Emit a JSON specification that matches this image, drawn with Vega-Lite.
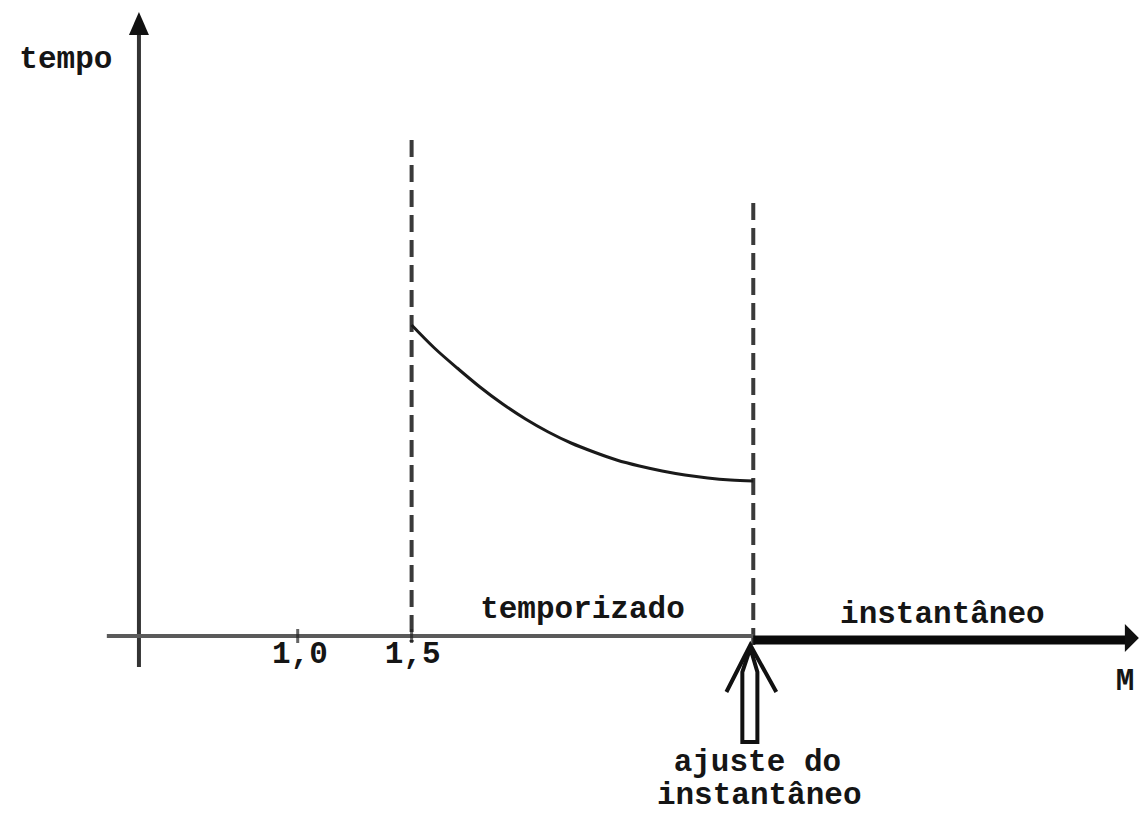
{
  "$schema": "https://vega.github.io/schema/vega-lite/v6.json",
  "width": 1139,
  "height": 814,
  "padding": 0,
  "autosize": {"type": "fit", "contains": "padding"},
  "background": "white",
  "config": {"view": {"stroke": null}},
  "layer": [
    {
      "data": {"values": [
        {"name": "1.5", "m": 1.5, "top": 4.96, "bottom": -0.06},
        {"name": "3.0", "m": 3.0, "top": 4.33, "bottom": -0.19}
      ]},
      "mark": {"type": "rule", "strokeDash": [17, 8], "strokeWidth": 4, "color": "#3a3a3a"},
      "encoding": {
        "x": {"field": "m", "type": "quantitative", "scale": {"domain": [-0.307, 4.689], "nice": false, "zero": false}, "axis": null},
        "y": {"field": "top", "type": "quantitative", "scale": {"domain": [-1.78, 6.36], "nice": false, "zero": false}, "axis": null},
        "y2": {"field": "bottom"}
      }
    },
    {
      "data": {"values": [
        {"m": 0.303, "top": 6.06, "bottom": -0.31}
      ]},
      "mark": {"type": "rule", "strokeWidth": 4, "color": "#333333"},
      "encoding": {
        "x": {"field": "m", "type": "quantitative", "scale": {"domain": [-0.307, 4.689], "nice": false, "zero": false}, "axis": null},
        "y": {"field": "top", "type": "quantitative", "scale": {"domain": [-1.78, 6.36], "nice": false, "zero": false}, "axis": null},
        "y2": {"field": "bottom"}
      }
    },
    {
      "data": {"values": [
        {"m": 0.162, "m2": 3.0, "t": 0}
      ]},
      "mark": {"type": "rule", "strokeWidth": 4, "color": "#5a5a5a"},
      "encoding": {
        "x": {"field": "m", "type": "quantitative", "scale": {"domain": [-0.307, 4.689], "nice": false, "zero": false}, "axis": null},
        "x2": {"field": "m2"},
        "y": {"field": "t", "type": "quantitative", "scale": {"domain": [-1.78, 6.36], "nice": false, "zero": false}, "axis": null}
      }
    },
    {
      "data": {"values": [
        {"m": 3.0, "m2": 4.64, "t": -0.04}
      ]},
      "mark": {"type": "rule", "strokeWidth": 9, "color": "#0a0a0a"},
      "encoding": {
        "x": {"field": "m", "type": "quantitative", "scale": {"domain": [-0.307, 4.689], "nice": false, "zero": false}, "axis": null},
        "x2": {"field": "m2"},
        "y": {"field": "t", "type": "quantitative", "scale": {"domain": [-1.78, 6.36], "nice": false, "zero": false}, "axis": null}
      }
    },
    {
      "data": {"values": [
        {"m": 1.0, "t": 0},
        {"m": 1.5, "t": 0}
      ]},
      "mark": {"type": "tick", "orient": "vertical", "size": 14, "thickness": 3, "color": "#222222"},
      "encoding": {
        "x": {"field": "m", "type": "quantitative", "scale": {"domain": [-0.307, 4.689], "nice": false, "zero": false}, "axis": null},
        "y": {"field": "t", "type": "quantitative", "scale": {"domain": [-1.78, 6.36], "nice": false, "zero": false}, "axis": null}
      }
    },
    {
      "data": {"values": [
        {"m": 1.5, "t": 3.11},
        {"m": 1.6, "t": 2.88},
        {"m": 1.7, "t": 2.68},
        {"m": 1.8, "t": 2.49},
        {"m": 1.9, "t": 2.32},
        {"m": 2.0, "t": 2.17},
        {"m": 2.1, "t": 2.04},
        {"m": 2.2, "t": 1.93},
        {"m": 2.3, "t": 1.84},
        {"m": 2.4, "t": 1.76},
        {"m": 2.5, "t": 1.70},
        {"m": 2.6, "t": 1.65},
        {"m": 2.7, "t": 1.61},
        {"m": 2.8, "t": 1.58},
        {"m": 2.9, "t": 1.56},
        {"m": 3.0, "t": 1.55}
      ]},
      "mark": {"type": "line", "interpolate": "natural", "strokeWidth": 3, "color": "#1a1a1a"},
      "encoding": {
        "x": {"field": "m", "type": "quantitative", "scale": {"domain": [-0.307, 4.689], "nice": false, "zero": false}, "axis": null},
        "y": {"field": "t", "type": "quantitative", "scale": {"domain": [-1.78, 6.36], "nice": false, "zero": false}, "axis": null}
      }
    },
    {
      "data": {"values": [
        {"part": "head", "o": 1, "m": 2.882, "t": -0.56},
        {"part": "head", "o": 2, "m": 2.987, "t": -0.09},
        {"part": "head", "o": 3, "m": 3.101, "t": -0.56},
        {"part": "shaft", "o": 1, "m": 2.987, "t": -0.12},
        {"part": "shaft", "o": 2, "m": 2.952, "t": -0.36},
        {"part": "shaft", "o": 3, "m": 2.952, "t": -1.06},
        {"part": "shaft", "o": 4, "m": 3.018, "t": -1.06},
        {"part": "shaft", "o": 5, "m": 3.018, "t": -0.36},
        {"part": "shaft", "o": 6, "m": 2.987, "t": -0.12}
      ]},
      "mark": {"type": "line", "strokeWidth": 4, "color": "#111111", "strokeJoin": "miter"},
      "encoding": {
        "x": {"field": "m", "type": "quantitative", "scale": {"domain": [-0.307, 4.689], "nice": false, "zero": false}, "axis": null},
        "y": {"field": "t", "type": "quantitative", "scale": {"domain": [-1.78, 6.36], "nice": false, "zero": false}, "axis": null},
        "detail": {"field": "part", "type": "nominal"},
        "order": {"field": "o", "type": "quantitative"}
      }
    },
    {
      "data": {"values": [
        {"m": 0.303, "t": 6.125}
      ]},
      "mark": {"type": "point", "shape": "M0,-1L-0.87,1L0.87,1Z", "size": 529, "filled": true, "opacity": 1, "color": "#111111"},
      "encoding": {
        "x": {"field": "m", "type": "quantitative", "scale": {"domain": [-0.307, 4.689], "nice": false, "zero": false}, "axis": null},
        "y": {"field": "t", "type": "quantitative", "scale": {"domain": [-1.78, 6.36], "nice": false, "zero": false}, "axis": null}
      }
    },
    {
      "data": {"values": [
        {"m": 4.662, "t": -0.02}
      ]},
      "mark": {"type": "point", "shape": "M1,0L-1,-2L-1,2Z", "size": 196, "filled": true, "opacity": 1, "color": "#111111"},
      "encoding": {
        "x": {"field": "m", "type": "quantitative", "scale": {"domain": [-0.307, 4.689], "nice": false, "zero": false}, "axis": null},
        "y": {"field": "t", "type": "quantitative", "scale": {"domain": [-1.78, 6.36], "nice": false, "zero": false}, "axis": null}
      }
    },
    {
      "data": {"values": [
        {"label": "tempo", "m": -0.018, "t": 5.68},
        {"label": "1,0", "m": 1.01, "t": -0.27},
        {"label": "1,5", "m": 1.505, "t": -0.27},
        {"label": "temporizado", "m": 2.25, "t": 0.18},
        {"label": "instantâneo", "m": 3.83, "t": 0.13},
        {"label": "M", "m": 4.632, "t": -0.54},
        {"label": "ajuste do", "m": 3.018, "t": -1.35},
        {"label": "instantâneo", "m": 3.026, "t": -1.675}
      ]},
      "mark": {"type": "text", "font": "Liberation Mono", "fontSize": 31, "fontWeight": "bold", "align": "center", "baseline": "alphabetic", "color": "#151515"},
      "encoding": {
        "x": {"field": "m", "type": "quantitative", "scale": {"domain": [-0.307, 4.689], "nice": false, "zero": false}, "axis": null},
        "y": {"field": "t", "type": "quantitative", "scale": {"domain": [-1.78, 6.36], "nice": false, "zero": false}, "axis": null},
        "text": {"field": "label", "type": "nominal"}
      }
    }
  ]
}
